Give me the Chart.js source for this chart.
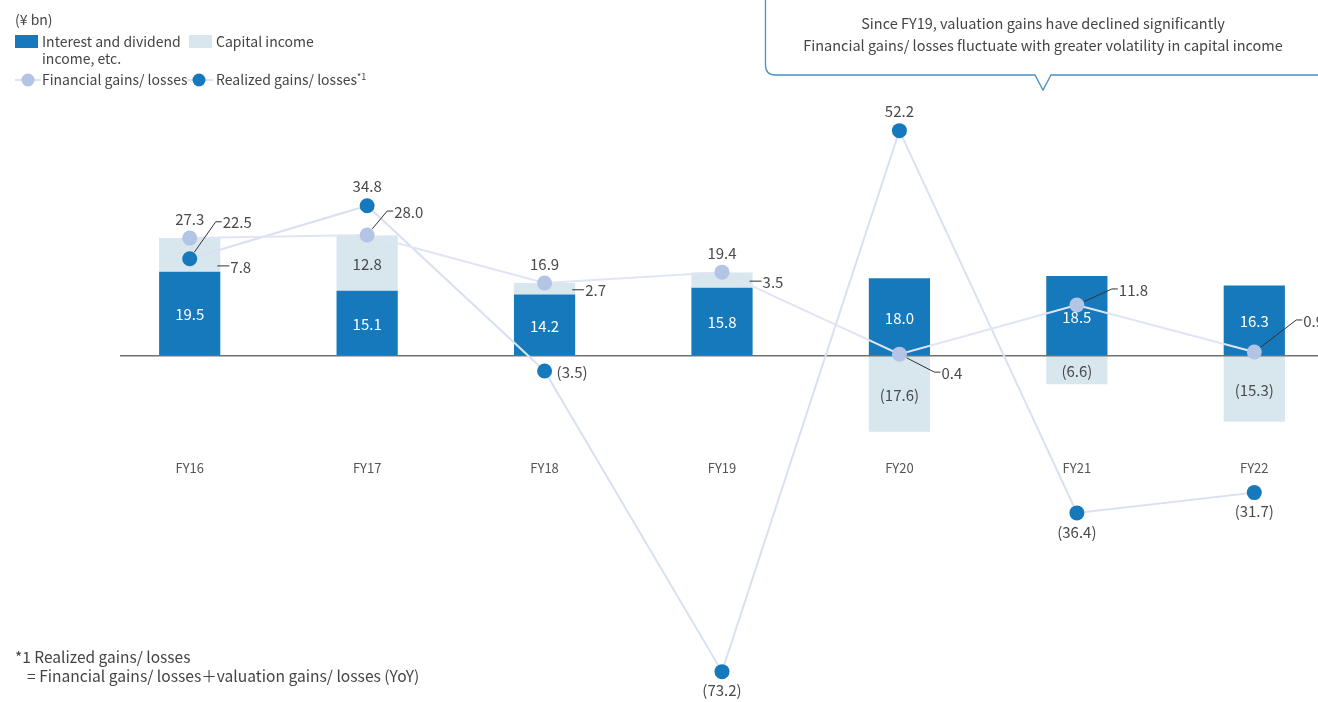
<!DOCTYPE html>
<html>
<head>
<meta charset="utf-8">
<script src="https://cdn.jsdelivr.net/npm/chart.js@4.4.1/dist/chart.umd.min.js"></script>
<style>
  body { margin: 0; width: 1318px; height: 702px; overflow: hidden; background: #fff; position: relative;
         font-family: "Noto Sans CJK JP", "Noto Sans", sans-serif; color: #444; }
  #chart { position: absolute; left: 0; top: 0; }
  .t { position: absolute; font-size: 14px; line-height: 17px; white-space: nowrap; }
  .sw { position: absolute; width: 23px; height: 13px; }
  .t sup { font-size: 9px; vertical-align: 5px; line-height: 0; }
  svg.mk { position: absolute; }
</style>
</head>
<body>
<canvas id="chart" width="1343" height="702"></canvas>

<svg style="position:absolute;left:0;top:0" width="1318" height="100">
  <path d="M765.5 -10 L765.5 65 Q765.5 75 775.5 75 L1035 75 L1043 90 L1051 75 L1330 75"
        fill="#fff" stroke="#4a8fc6" stroke-width="1.3"/>
</svg>
<div class="t" style="left:0;width:2086px;text-align:center;top:14px;font-size:14.5px;">Since FY19, valuation gains have declined significantly</div>
<div class="t" style="left:0;width:2086px;text-align:center;top:36px;font-size:14.5px;">Financial gains/ losses fluctuate with greater volatility in capital income</div>

<div class="t" style="left:15px;top:11px;">(¥ bn)</div>
<div class="sw" style="left:15px;top:35px;background:#1679bc;"></div>
<div class="t" style="left:42px;top:33px;">Interest and dividend<br>income, etc.</div>
<div class="sw" style="left:189px;top:35px;background:#d8e6ee;"></div>
<div class="t" style="left:216px;top:33px;">Capital income</div>
<svg class="mk" style="left:14px;top:72px" width="28" height="16">
  <line x1="1" y1="8" x2="27" y2="8" stroke="#dbe2f3" stroke-width="2"/>
  <circle cx="14" cy="8" r="6.5" fill="#b4c4e4"/>
</svg>
<div class="t" style="left:42px;top:71px;">Financial gains/ losses</div>
<svg class="mk" style="left:186px;top:72px" width="28" height="16">
  <line x1="1" y1="8" x2="27" y2="8" stroke="#dbe2f3" stroke-width="2"/>
  <circle cx="13" cy="8" r="6.5" fill="#1679bc"/>
</svg>
<div class="t" style="left:216px;top:71px;">Realized gains/ losses<sup>*1</sup></div>

<div class="t" style="left:15px;top:648px;font-size:15.5px;">*1 Realized gains/ losses</div>
<div class="t" style="left:27px;top:667px;font-size:15.6px;">= Financial gains/ losses＋valuation gains/ losses (YoY)</div>

<script>
const categories = ['FY16', 'FY17', 'FY18', 'FY19', 'FY20', 'FY21', 'FY22'];
const interestIncome = [19.5, 15.1, 14.2, 15.8, 18.0, 18.5, 16.3];
const capitalIncome = [7.8, 12.8, 2.7, 3.5, -17.6, -6.6, -15.3];
const financialGains = [27.3, 28.0, 16.9, 19.4, 0.4, 11.8, 0.9];
const realizedGains = [22.5, 34.8, -3.5, -73.2, 52.2, -36.4, -31.7];

// where each value label goes (styling only)
const capitalLabelPos = [{t: 'side', dy: 11}, {t: 'in'}, {t: 'side', dy: 1}, {t: 'side', dy: 1}, {t: 'in'}, {t: 'in'}, {t: 'in'}];
const financialLabelPos = [{t: 'top'}, {t: 'lead', dx: 20, dy: -24}, {t: 'top'}, {t: 'top'},
    {t: 'lead', dx: 35, dy: 18}, {t: 'lead', dx: 35, dy: -16}, {t: 'lead', dx: 42, dy: -32}];
const realizedLabelPos = [{t: 'lead', dx: 26, dy: -37}, {t: 'top'}, {t: 'right'}, {t: 'bottom'},
    {t: 'top'}, {t: 'bottom'}, {t: 'bottom'}];

const FONT = '"Noto Sans CJK JP", "Noto Sans", sans-serif';
const TXT = '#4a4a4a';

function fmt(v) {
    return v < 0 ? '(' + Math.abs(v).toFixed(1) + ')' : v.toFixed(1);
}

function drawLeader(ctx, x, y, p, v) {
    var len = Math.sqrt(p.dx * p.dx + p.dy * p.dy);
    var sx = x + p.dx / len * 8, sy = y + p.dy / len * 8;
    ctx.beginPath();
    ctx.moveTo(sx, sy);
    ctx.lineTo(x + p.dx, y + p.dy);
    ctx.lineTo(x + p.dx + 6, y + p.dy);
    ctx.strokeStyle = '#333';
    ctx.lineWidth = 1;
    ctx.stroke();
    ctx.textAlign = 'left';
    ctx.fillText(fmt(v), x + p.dx + 7, y + p.dy + 1);
}

function pointLabels(ctx, meta, values, places) {
    meta.data.forEach((el, i) => {
        var p = places[i];
        ctx.fillStyle = TXT;
        if (p.t == 'top') {
            ctx.textAlign = 'center';
            ctx.fillText(fmt(values[i]), el.x, el.y - 19);
        } else if (p.t == 'bottom') {
            ctx.textAlign = 'center';
            ctx.fillText(fmt(values[i]), el.x, el.y + 19);
        } else if (p.t == 'right') {
            ctx.textAlign = 'left';
            ctx.fillText(fmt(values[i]), el.x + 12, el.y + 1);
        } else {
            drawLeader(ctx, el.x, el.y, p, values[i]);
        }
    });
}

const labelPlugin = {
    id: 'labels',
    beforeDatasetDraw(chart, args) {
        if (args.index != 3) return;
        // zero line sits above the bars but under the lines
        var ctx = chart.ctx;
        var y0 = chart.scales.y.getPixelForValue(0);
        ctx.save();
        ctx.beginPath();
        ctx.moveTo(120, y0);
        ctx.lineTo(chart.width, y0);
        ctx.strokeStyle = '#707070';
        ctx.lineWidth = 1.5;
        ctx.stroke();
        ctx.restore();
    },
    afterDatasetsDraw(chart) {
        var ctx = chart.ctx;
        ctx.save();
        ctx.font = '15px ' + FONT;
        ctx.textBaseline = 'middle';

        chart.getDatasetMeta(0).data.forEach((el, i) => {
            ctx.fillStyle = '#fff';
            ctx.textAlign = 'center';
            ctx.fillText(fmt(interestIncome[i]), el.x, (el.y + el.base) / 2 + 1);
        });

        chart.getDatasetMeta(1).data.forEach((el, i) => {
            var p = capitalLabelPos[i];
            var cy = (el.y + el.base) / 2;
            ctx.fillStyle = TXT;
            if (p.t == 'in') {
                ctx.textAlign = 'center';
                ctx.fillText(fmt(capitalIncome[i]), el.x, cy + 1);
            } else {
                var x = el.x + el.width / 2;
                var y = cy + p.dy;
                ctx.beginPath();
                ctx.moveTo(x - 3, y);
                ctx.lineTo(x + 9, y);
                ctx.strokeStyle = '#333';
                ctx.lineWidth = 1;
                ctx.stroke();
                ctx.textAlign = 'left';
                ctx.fillText(fmt(capitalIncome[i]), x + 10, y + 1);
            }
        });

        pointLabels(ctx, chart.getDatasetMeta(2), financialGains, financialLabelPos);
        pointLabels(ctx, chart.getDatasetMeta(3), realizedGains, realizedLabelPos);

        // category names sit in the middle of the plot
        ctx.font = '13px ' + FONT;
        ctx.textAlign = 'center';
        ctx.fillStyle = '#555';
        categories.forEach((c, i) => {
            ctx.fillText(c, chart.scales.x.getPixelForValue(i), 468);
        });
        ctx.restore();
    }
};

new Chart(document.getElementById('chart'), {
    type: 'bar',
    data: {
        labels: categories,
        datasets: [
            {
                label: 'Interest and dividend income, etc.',
                data: interestIncome,
                backgroundColor: '#1679bc',
                stack: 'income',
                order: 1,
                categoryPercentage: 1,
                barPercentage: 0.345
            },
            {
                label: 'Capital income',
                data: capitalIncome,
                backgroundColor: '#d8e6ee',
                stack: 'income',
                order: 1,
                categoryPercentage: 1,
                barPercentage: 0.345
            },
            {
                type: 'line',
                label: 'Financial gains/ losses',
                data: financialGains,
                stack: 'fin',
                order: 0,
                borderColor: '#dfe5f4',
                borderWidth: 2,
                pointRadius: 7.5,
                pointBorderWidth: 0,
                pointBackgroundColor: '#b4c4e4',
                tension: 0
            },
            {
                type: 'line',
                label: 'Realized gains/ losses',
                data: realizedGains,
                stack: 'real',
                order: 0,
                borderColor: '#d9e0f2',
                borderWidth: 2,
                pointRadius: 7.5,
                pointBorderWidth: 0,
                pointBackgroundColor: '#1679bc',
                tension: 0
            }
        ]
    },
    options: {
        responsive: false,
        animation: false,
        layout: { autoPadding: false, padding: { left: 101, right: 0, top: 97, bottom: 1 } },
        scales: {
            x: { display: false, stacked: true, offset: true },
            y: { display: false, stacked: true, min: -80, max: 60 }
        },
        plugins: {
            legend: { display: false },
            tooltip: { enabled: false }
        }
    },
    plugins: [labelPlugin]
});
</script>
</body>
</html>
